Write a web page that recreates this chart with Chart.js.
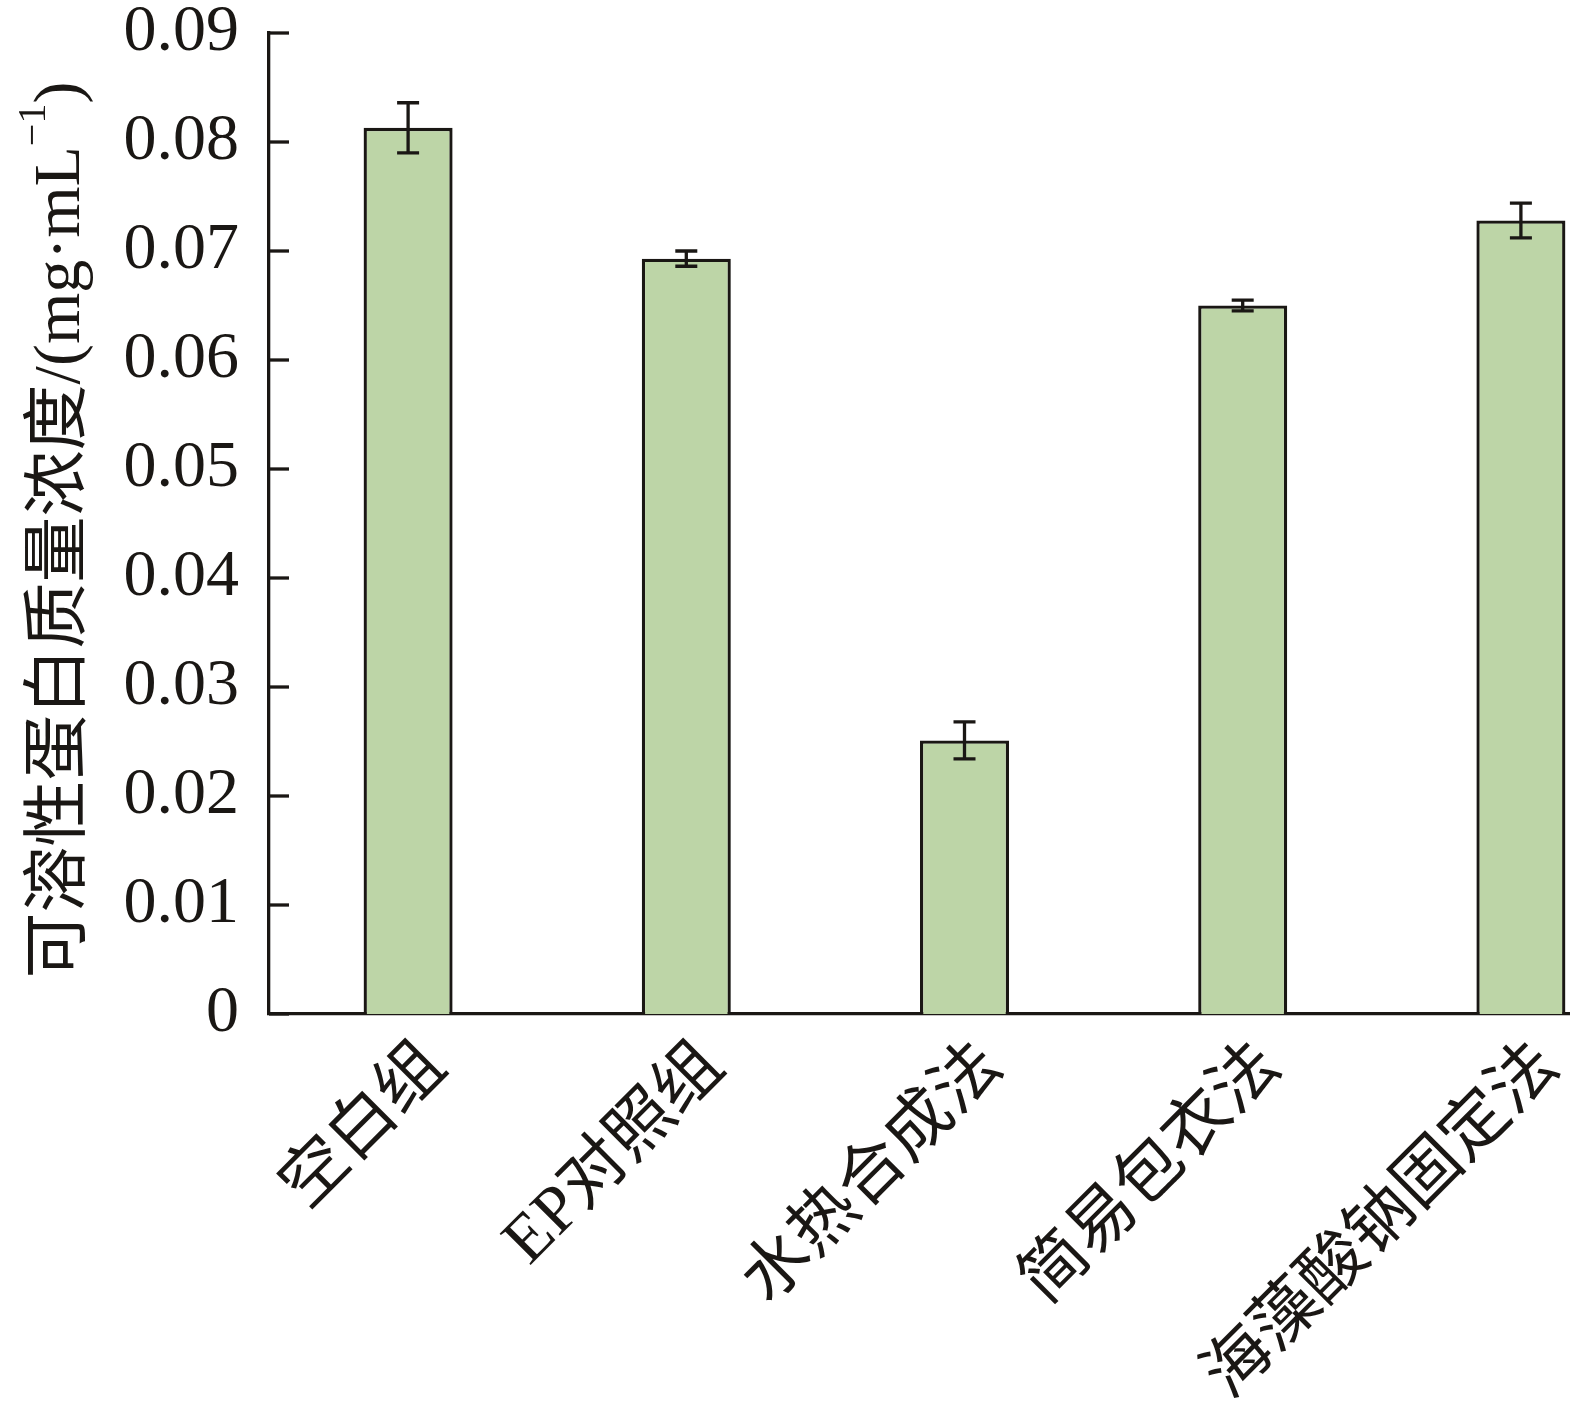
<!DOCTYPE html>
<html><head><meta charset="utf-8">
<script src="https://cdn.jsdelivr.net/npm/chart.js@4"></script>
<style>html,body{margin:0;padding:0;overflow:hidden;background:#fff;width:1570px;height:1406px}
#wrap{width:1660px;height:1406px}</style></head>
<body><div id="wrap"><canvas id="c" width="1660" height="1406"></canvas></div>
<script>
const categories = ['空白组','EP对照组','水热合成法','简易包衣法','海藻酸钠固定法'];
const values = [0.0813, 0.0693, 0.0251, 0.0650, 0.0728];
const errors = [0.0023, 0.0007, 0.0017, 0.0005, 0.0016];
const yTicks = [0, 0.01, 0.02, 0.03, 0.04, 0.05, 0.06, 0.07, 0.08, 0.09];
const yTitleMain = '可溶性蛋白质量浓度/(mg·mL';
const yTitleSup = '−1';
const yTitleEnd = ')';

const INK = '#1a1714';
const latinCjk = "'Liberation Serif', 'Noto Sans CJK SC', serif";

const extras = {
  id: 'extras',
  afterDatasetsDraw(chart) {
    const ctx = chart.ctx, y = chart.scales.y;
    ctx.save();
    ctx.strokeStyle = INK; ctx.lineWidth = 3.3;
    const meta = chart.getDatasetMeta(0);
    meta.data.forEach((bar, i) => {
      const cx = bar.x;
      const yt = y.getPixelForValue(values[i] + errors[i]);
      const yb = y.getPixelForValue(values[i] - errors[i]);
      ctx.beginPath();
      ctx.moveTo(cx, yt); ctx.lineTo(cx, yb);
      ctx.moveTo(cx - 11, yt); ctx.lineTo(cx + 11, yt);
      ctx.moveTo(cx - 11, yb); ctx.lineTo(cx + 11, yb);
      ctx.stroke();
    });
    const left = chart.chartArea.left;
    yTicks.forEach(v => {
      const py = y.getPixelForValue(v);
      ctx.beginPath(); ctx.moveTo(left, py); ctx.lineTo(left + 20, py); ctx.stroke();
    });
    const big = "66px " + latinCjk, small = "40px " + latinCjk;
    ctx.fillStyle = INK;
    ctx.font = big; const w1 = ctx.measureText(yTitleMain).width; const w3 = ctx.measureText(yTitleEnd).width;
    ctx.font = small; const w2 = ctx.measureText(yTitleSup).width;
    const total = w1 + w2 + w3;
    ctx.translate(62, 530);
    ctx.rotate(-Math.PI / 2);
    ctx.textBaseline = 'middle'; ctx.textAlign = 'left';
    let sx = -total / 2;
    ctx.font = big; ctx.fillText(yTitleMain, sx, 0); sx += w1;
    ctx.font = small; ctx.fillText(yTitleSup, sx, -28); sx += w2;
    ctx.font = big; ctx.fillText(yTitleEnd, sx, 0);
    ctx.restore();
  }
};

new Chart(document.getElementById('c'), {
  type: 'bar',
  data: {
    labels: categories,
    datasets: [{
      data: values,
      backgroundColor: '#bdd5a7',
      borderColor: INK,
      borderWidth: 3.3,
      barPercentage: 0.32,
      categoryPercentage: 1.0
    }]
  },
  options: {
    responsive: false,
    animation: false,
    layout: { padding: { top: 33, right: 0, left: 0, bottom: 0 } },
    plugins: { legend: { display: false }, tooltip: { enabled: false } },
    scales: {
      x: {
        grid: { display: false, drawTicks: false },
        border: { display: true, color: INK, width: 3.3 },
        ticks: { color: INK, font: { family: latinCjk, size: 67 }, minRotation: 45, maxRotation: 45, padding: 14, labelOffset: 28, autoSkip: false },
        afterFit(s) { s.height = 392; s.paddingLeft = 0; s.paddingRight = 0; s.paddingTop = 0; s.paddingBottom = 0; }
      },
      y: {
        min: 0, max: 0.09,
        afterBuildTicks(s) { s.ticks = yTicks.map(v => ({ value: v })); },
        grid: { display: false, drawTicks: false },
        border: { display: true, color: INK, width: 3.3 },
        ticks: { color: INK, font: { family: "'Liberation Serif', serif", size: 66 }, padding: 30,
          callback: v => v === 0 ? '0' : v.toFixed(2) },
        afterFit(s) { s.width = 269; s.paddingTop = 0; s.paddingBottom = 0; s.paddingLeft = 0; s.paddingRight = 0; }
      }
    }
  },
  plugins: [extras]
});
</script></body></html>
